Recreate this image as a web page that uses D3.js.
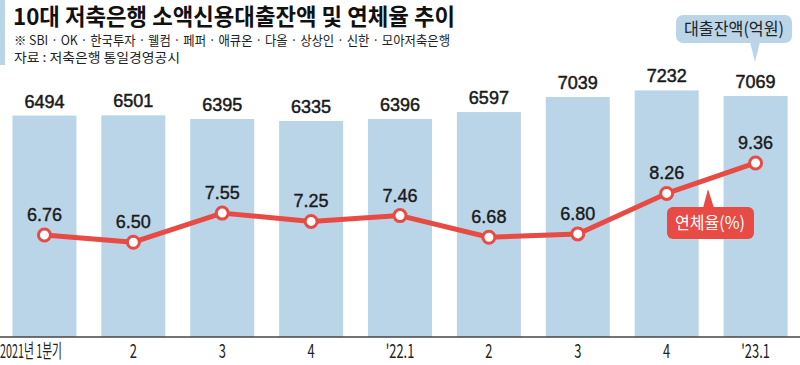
<!DOCTYPE html>
<html>
<head>
<meta charset="utf-8">
<script src="https://cdn.jsdelivr.net/npm/d3@7"></script>
<style>
html,body{margin:0;padding:0;background:#fff}
svg{display:block}
</style>
</head>
<body>
<div id="chart"></div>
<script>
// 10대 저축은행 소액신용대출잔액 및 연체율 추이
const quarters=["2021년 1분기","2","3","4","'22.1","2","3","4","'23.1"];
const loanBal=[6494,6501,6395,6335,6396,6597,7039,7232,7069];   // 억원
const delinq=[6.76,6.50,7.55,7.25,7.46,6.68,6.80,8.26,9.36];     // %

const W=800,H=365,base=337;
const KR='"Noto Sans CJK KR","Noto Sans",sans-serif';
const NUM='"Liberation Sans",Arial,sans-serif';
const colBar="#bad4e8",colRed="#e84a44",colTxt="#1a1a1a";

const svg=d3.select("#chart").append("svg").attr("width",W).attr("height",H);

const keys=quarters.map((q,i)=>i);
const x=d3.scaleBand().domain(keys).range([0,W]).paddingInner(0.28).paddingOuter(0.14);
const yBar=d3.scaleLinear().domain([0,9883]).range([base,0]);
const yLine=d3.scaleLinear().domain([3.08,15.24]).range([base,0]);

// left accent strip + titles
svg.append("rect").attr("x",0).attr("y",0).attr("width",5).attr("height",65).attr("fill",colBar);
svg.append("text").attr("x",13).attr("y",25).attr("font-family",KR).attr("font-weight",700)
  .attr("font-size",23).attr("fill","#111").attr("textLength",442).attr("lengthAdjust","spacingAndGlyphs")
  .text("10대 저축은행 소액신용대출잔액 및 연체율 추이");
svg.append("text").attr("x",14).attr("y",45).attr("font-family",KR).attr("font-size",13)
  .attr("fill","#222").attr("textLength",436).attr("lengthAdjust","spacingAndGlyphs")
  .text("※ SBI · OK · 한국투자 · 웰컴 · 페퍼 · 애큐온 · 다올 · 상상인 · 신한 · 모아저축은행");
svg.append("text").attr("x",14).attr("y",62).attr("font-family",KR).attr("font-size",13)
  .attr("fill","#222").attr("textLength",166).attr("lengthAdjust","spacingAndGlyphs")
  .text("자료 : 저축은행 통일경영공시");

// bars
svg.append("g").selectAll("rect").data(loanBal).join("rect")
  .attr("x",(d,i)=>x(i)).attr("width",x.bandwidth())
  .attr("y",d=>yBar(d)).attr("height",d=>base-yBar(d))
  .attr("fill",colBar);

svg.append("g").selectAll("text").data(loanBal).join("text")
  .attr("x",(d,i)=>x(i)+x.bandwidth()/2).attr("y",d=>yBar(d)-8)
  .attr("text-anchor","middle").attr("font-family",NUM).attr("font-size",18)
  .attr("fill",colTxt).attr("stroke",colTxt).attr("stroke-width",0.5)
  .text(d=>d);

// baseline
svg.append("line").attr("x1",0).attr("x2",W).attr("y1",base).attr("y2",base)
  .attr("stroke","#444").attr("stroke-width",1.5);

// x labels (condensed)
const sx=0.68;
svg.append("g").selectAll("text").data(quarters).join("text")
  .attr("transform",(d,i)=>{
    const px=i===0?0:x(i)+x.bandwidth()/2;
    return "translate("+px+",358) scale("+sx+",1)";
  })
  .attr("text-anchor",(d,i)=>i===0?"start":"middle")
  .attr("font-family",KR).attr("font-size",19).attr("fill","#222")
  .attr("textLength",(d,i)=>i===0?62/sx:null).attr("lengthAdjust","spacingAndGlyphs")
  .text(d=>d);

// delinquency line
const cx=i=>x(i)+x.bandwidth()/2;
const line=d3.line().x((d,i)=>cx(i)).y(d=>yLine(d));
svg.append("path").datum(delinq).attr("d",line).attr("fill","none")
  .attr("stroke",colRed).attr("stroke-width",5).attr("stroke-linejoin","round");
svg.append("g").selectAll("circle").data(delinq).join("circle")
  .attr("cx",(d,i)=>cx(i)).attr("cy",d=>yLine(d)).attr("r",6)
  .attr("fill","#fff").attr("stroke",colRed).attr("stroke-width",3);
svg.append("g").selectAll("text").data(delinq).join("text")
  .attr("x",(d,i)=>cx(i)).attr("y",d=>yLine(d)-14)
  .attr("text-anchor","middle").attr("font-family",NUM).attr("font-size",18)
  .attr("fill",colTxt).attr("stroke",colTxt).attr("stroke-width",0.4)
  .text(d=>d.toFixed(2));

// legend callout: 대출잔액(억원)
const lg=svg.append("g");
lg.append("rect").attr("x",676).attr("y",15).attr("width",116).attr("height",28).attr("rx",7).attr("fill",colBar);
lg.append("path").attr("d","M750,42 L755,62 L760,42 Z").attr("fill",colBar);
lg.append("text").attr("x",734).attr("y",35).attr("text-anchor","middle").attr("font-family",KR)
  .attr("font-size",17).attr("fill","#222").attr("textLength",100).attr("lengthAdjust","spacingAndGlyphs")
  .text("대출잔액(억원)");

// legend callout: 연체율(%)
const lr=svg.append("g");
lr.append("rect").attr("x",667).attr("y",207).attr("width",87).attr("height",32).attr("rx",6).attr("fill",colRed);
lr.append("path").attr("d","M703,208 L708,189 L714,208 Z").attr("fill",colRed);
lr.append("text").attr("x",710).attr("y",229).attr("text-anchor","middle").attr("font-family",KR)
  .attr("font-size",17).attr("fill","#fff").attr("textLength",70).attr("lengthAdjust","spacingAndGlyphs")
  .text("연체율(%)");
</script>
</body>
</html>
